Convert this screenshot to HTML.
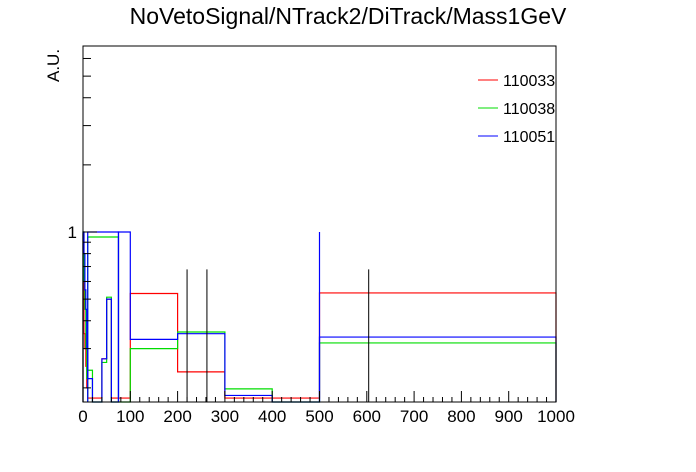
<!DOCTYPE html>
<html><head><meta charset="utf-8"><style>
body{margin:0;background:#fff;}
svg{display:block;font-family:"Liberation Sans",sans-serif;}
</style></head><body>
<svg id="c" width="696" height="472" viewBox="0 0 696 472">
<rect x="0" y="0" width="696" height="472" fill="#fff"/>
<text x="348" y="24" font-size="23" text-anchor="middle">NoVetoSignal/NTrack2/DiTrack/Mass1GeV</text>
<text transform="translate(59,82) rotate(-90)" font-size="17" text-anchor="start">A.U.</text>
<g id="plot"></g>
<rect x="83" y="46" width="473" height="356" fill="none" stroke="#000" stroke-width="1"/>
<g>
<line x1="478" y1="80" x2="498" y2="80" stroke="#f00"/>
<text x="503" y="86" font-size="16">110033</text>
<line x1="478" y1="108" x2="498" y2="108" stroke="#0d0"/>
<text x="503" y="114" font-size="16">110038</text>
<line x1="478" y1="136" x2="498" y2="136" stroke="#00f"/>
<text x="503" y="142" font-size="16">110051</text>
</g>
</svg>
<script>
const xTicks=[0,100,200,300,400,500,600,700,800,900,1000];
const xTickLabels=["0","100","200","300","400","500","600","700","800","900","1000"];
const yMajor=[1];
const yMajorLabels=["1"];
const yMinor=[0.2,0.3,0.4,0.5,0.6,0.7,0.8,0.9,2,3,4,5,6];
const edgesFine=[0,2,4,6,8,10,20,40,50,60,75,100,200,300,400,500,1000];
const redValues=[0.98,0.35,0.3,0.25,0.2,0.18,0.18,0.27,0.5,0.18,0.18,0.53,0.236,0.18,0.18,0.533];
const greenValues=[1.0,0.6,0.45,0.3,0.22,0.24,0.16,0.26,0.51,0.16,0.16,0.3,0.356,0.198,0.16,0.318];
const blueValues=[1.0,0.8,0.55,0.45,0.3,0.22,0.16,0.27,0.5,0.16,1.0,0.33,0.35,0.185,0.16,0.338];
const edgesCoarse=[10,75];
const greenCoarse=[0.95];
const blueCoarse=[1.0];
const blueSpikeX=[500];
const blueSpikeTop=[1.0];
const errX=[220,262,604];
const errTop=[0.68,0.68,0.68];
const X0=83,X1=556,Y0=46,Y1=402,XMIN=0,XMAX=1000;
const Y1VAL=1, Y1PIX=232, DEC=223;
function xs(v){return X0+(v-XMIN)/(XMAX-XMIN)*(X1-X0);}
function ys(v){let y=Y1PIX-Math.log10(v/Y1VAL)*DEC;return Math.max(Y0,Math.min(Y1,y));}
const NS="http://www.w3.org/2000/svg";
const g=document.getElementById('plot');
function mk(t,a){const e=document.createElementNS(NS,t);for(const k in a)e.setAttribute(k,a[k]);g.appendChild(e);return e;}
function hist(edges,vals,color,name){
  let d="M"+xs(edges[0])+","+Y1;
  for(let i=0;i<vals.length;i++){d+=" L"+xs(edges[i])+","+ys(vals[i])+" L"+xs(edges[i+1])+","+ys(vals[i]);}
  d+=" L"+xs(edges[vals.length])+","+Y1;
  const p=mk('path',{d:d,fill:'none',stroke:color,'stroke-width':1.2});
  
  
}
hist(edgesFine,redValues,'#f00','series-110033');
hist(edgesFine,greenValues,'#0d0','series-110038');
hist(edgesCoarse,greenCoarse,'#0d0','series-110038-coarse');
hist(edgesFine,blueValues,'#00f','series-110051');
hist(edgesCoarse,blueCoarse,'#00f','series-110051-coarse');
for(let i=0;i<blueSpikeX.length;i++){
  const l=mk('line',{x1:xs(blueSpikeX[i]),x2:xs(blueSpikeX[i]),y1:ys(blueSpikeTop[i]),y2:Y1,stroke:'#00f','stroke-width':1.2});
  
  
}
for(let i=0;i<errX.length;i++){
  const l=mk('line',{x1:xs(errX[i]),x2:xs(errX[i]),y1:ys(errTop[i]),y2:Y1,stroke:'#000'});
  
  
}
for(let v=0;v<=1000;v+=20){
  const major=v%100===0;
  const t=mk('line',{x1:xs(v),x2:xs(v),y1:Y1,y2:Y1-(major?11:5),stroke:'#000'});
  
  
}
for(let i=0;i<xTicks.length;i++){
  const t=mk('text',{x:xs(xTicks[i]),y:422,'font-size':17,'text-anchor':'middle'});
  t.textContent=xTickLabels[i];
  
  
}
for(let i=0;i<yMajor.length;i++){
  const t=mk('line',{x1:X0,x2:X0+14,y1:ys(yMajor[i]),y2:ys(yMajor[i]),stroke:'#000'});
  
  
  const l=mk('text',{x:77,y:ys(yMajor[i])+6,'font-size':17,'text-anchor':'end'});
  l.textContent=yMajorLabels[i];
  
  
}
for(const v of yMinor){
  const t=mk('line',{x1:X0,x2:X0+8,y1:ys(v),y2:ys(v),stroke:'#000'});
  
  
}
</script>
</body></html>
